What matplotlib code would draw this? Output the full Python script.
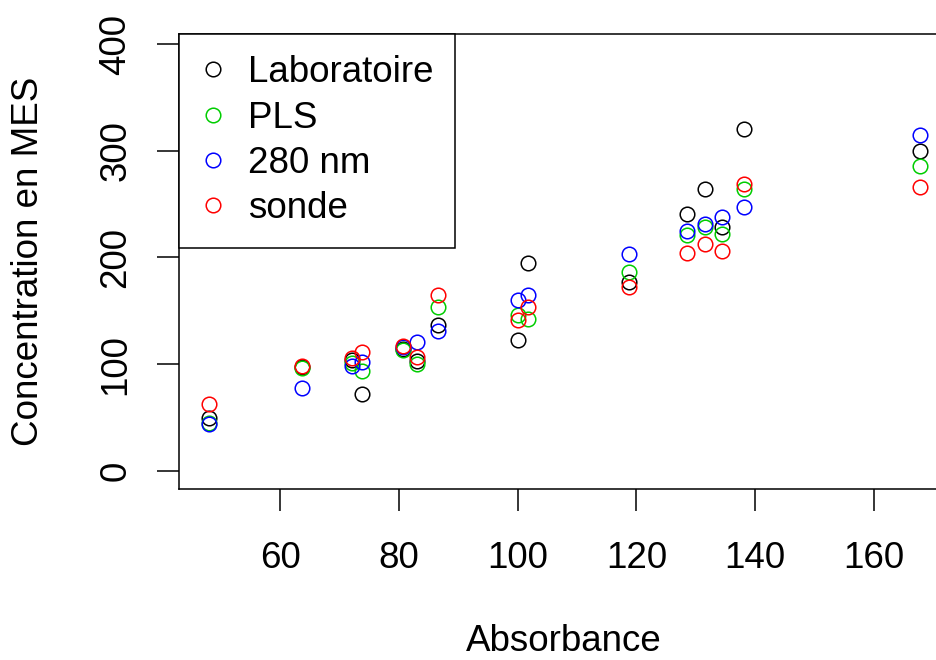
import matplotlib
matplotlib.use('Agg')
import matplotlib.pyplot as plt

plt.rcParams['font.family'] = ['Liberation Sans', 'DejaVu Sans']

# absorbance and the four MES concentration estimates
absorbance = [47.9, 63.7, 72.1, 73.7, 80.7, 83.0, 86.5, 100.0, 101.7,
              118.8, 128.5, 131.5, 134.4, 138.2, 167.7]
laboratoire = [50, 97, 104, 72, 114, 103, 137, 123, 195,
               177, 241, 264, 229, 320, 300]
pls = [45, 96, 101, 94, 113, 100, 154, 146, 142,
       186, 221, 229, 222, 264, 286]
nm280 = [44, 78, 98, 102, 116, 121, 131, 160, 165,
         203, 225, 231, 238, 247, 315]
sonde = [63, 98, 106, 111, 117, 107, 165, 141, 154,
         172, 204, 213, 206, 269, 266]

series = [('Laboratoire', laboratoire, 'black'),
          ('PLS', pls, '#00CD00'),
          ('280 nm', nm280, '#0000FF'),
          ('sonde', sonde, '#FF0000')]

FS = 26.5
W, H = 936, 660
fig = plt.figure(figsize=(W / 100, H / 100), dpi=100)
# plot region in pixels: left 179, right 948 (runs past the edge), top 34, bottom 489
ax = fig.add_axes([179 / W, (H - 489) / H, (948 - 179) / W, (489 - 34) / H])

for name, vals, col in series:
    ax.plot(absorbance, vals, linestyle='none', marker='o', markersize=10.5,
            markerfacecolor='none', markeredgecolor=col, markeredgewidth=1.1,
            label=name)

ax.set_xlim(42.9, 172.5)
ax.set_ylim(-16.9, 409.4)
ax.set_xticks([60, 80, 100, 120, 140, 160])
ax.set_yticks([0, 100, 200, 300, 400])

for sp in ax.spines.values():
    sp.set_linewidth(1.1)
ax.tick_params(axis='both', direction='out', length=15.5, width=1.1, labelsize=FS)
ax.tick_params(axis='x', pad=21.9)
ax.tick_params(axis='y', pad=17.2, labelrotation=90)
for lab in ax.get_yticklabels():
    lab.set_verticalalignment('center')

ax.set_xlabel('Absorbance', fontsize=FS)
ax.set_ylabel('Concentration en MES', fontsize=FS)
ax.xaxis.set_label_coords(0.5, (489 - 624) / (489 - 34))
ax.yaxis.set_label_coords((45.6 - 179) / (948 - 179), 0.5)

leg = ax.legend(loc='upper left', bbox_to_anchor=(0, 1), borderaxespad=0,
                fontsize=FS, frameon=True, fancybox=False, framealpha=1,
                edgecolor='black', handlelength=0.7, handletextpad=0.6,
                borderpad=0.58, labelspacing=0.28, numpoints=1)
leg.get_frame().set_linewidth(1.1)

fig.savefig('out.png', dpi=100)
